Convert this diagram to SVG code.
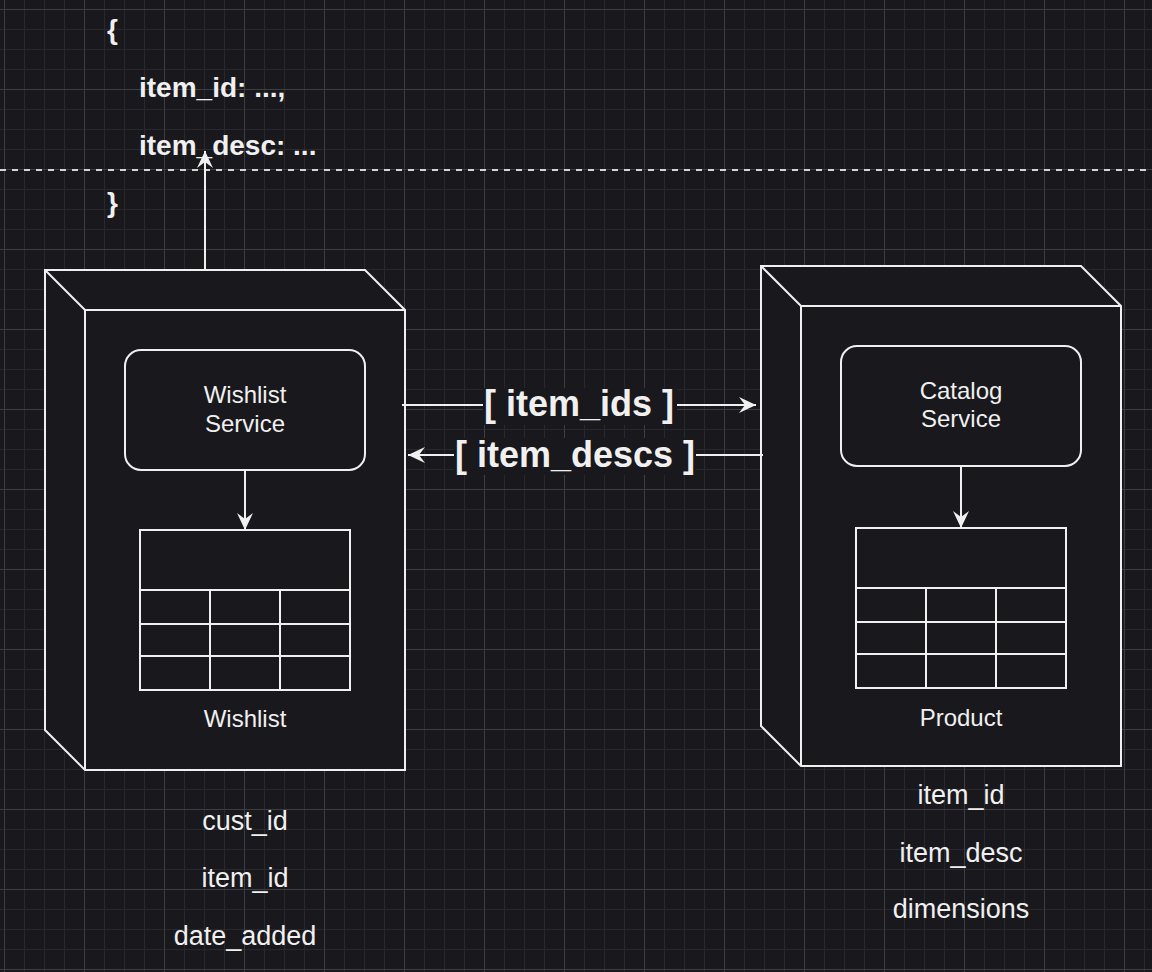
<svg xmlns="http://www.w3.org/2000/svg" width="1152" height="972" viewBox="0 0 1152 972">
  <defs>
    <pattern id="gridMinor" width="20" height="20" patternUnits="userSpaceOnUse" x="4" y="9">
      <path d="M0.5 0 V20 M0 0.5 H20" fill="none" stroke="#29282e" stroke-width="1"/>
    </pattern>
    <pattern id="gridMajor" width="80" height="80" patternUnits="userSpaceOnUse" x="4" y="9">
      <path d="M0.5 0 V80 M0 0.5 H80" fill="none" stroke="#3e3d43" stroke-width="1"/>
    </pattern>
    <marker id="arrow" markerUnits="userSpaceOnUse" markerWidth="20" markerHeight="20" viewBox="-18 -9 20 18" refX="0" refY="0" orient="auto">
      <path d="M0,0 L-17,-8 L-11,0 L-17,8 Z" fill="#f0f0f0" stroke="none"/>
    </marker>
    <style>
      .bg { fill: #19181d; }
      .shape { fill: #19181d; stroke: #f0f0f0; stroke-width: 2; }
      .line { fill: none; stroke: #f0f0f0; stroke-width: 2; }
      .edge { fill: none; stroke: #f0f0f0; stroke-width: 2; marker-end: url(#arrow); }
      .txt { font-family: "Liberation Sans", Arial, Helvetica, sans-serif; fill: #f0f0f0; text-anchor: middle; }
      .lbl { font-size: 24px; }
      .attr { font-size: 27px; }
      .json { font-family: "Liberation Sans", Arial, Helvetica, sans-serif; fill: #f0f0f0; font-size: 28px; font-weight: bold; }
      .elbl { font-size: 36px; font-weight: bold; }
    </style>
  </defs>

  <rect class="bg" x="0" y="0" width="1152" height="972"/>
  <rect x="0" y="0" width="1152" height="972" fill="url(#gridMinor)"/>
  <rect x="0" y="0" width="1152" height="972" fill="url(#gridMajor)"/>

  <g id="json-text">
    <text class="json" x="107" y="39">{</text>
    <text class="json" x="139" y="97">item_id: ...,</text>
    <text class="json" x="139" y="155">item_desc: ...</text>
    <text class="json" x="107" y="212">}</text>
  </g>

  <g id="divider">
    <line x1="0" y1="170" x2="1152" y2="170" stroke="#d4d4d4" stroke-width="2" stroke-dasharray="6 6"/>
  </g>

  <g id="wishlist-server">
    <path class="shape" d="M45,270 H365 L405,310 V770 H85 L45,730 Z"/>
    <path class="line" d="M45,270 L85,310 H405 M85,310 V770"/>
  </g>

  <g id="wishlist-service">
    <rect class="shape" x="125" y="350" width="240" height="120" rx="16" ry="16"/>
    <text class="txt lbl" x="245" y="403">Wishlist</text>
    <text class="txt lbl" x="245" y="432">Service</text>
  </g>

  <g id="wishlist-table">
    <rect class="shape" x="140" y="530" width="210" height="160"/>
    <path class="line" d="M140,590 H350 M140,624 H350 M140,656 H350 M210,590 V690 M280,590 V690"/>
    <text class="txt lbl" x="245" y="727">Wishlist</text>
  </g>

  <g id="wishlist-attrs">
    <text class="txt attr" x="245" y="830">cust_id</text>
    <text class="txt attr" x="245" y="887">item_id</text>
    <text class="txt attr" x="245" y="945">date_added</text>
  </g>

  <g id="catalog-server">
    <path class="shape" d="M761,266 H1081 L1121,306 V766 H801 L761,726 Z"/>
    <path class="line" d="M761,266 L801,306 H1121 M801,306 V766"/>
  </g>

  <g id="catalog-service">
    <rect class="shape" x="841" y="346" width="240" height="120" rx="16" ry="16"/>
    <text class="txt lbl" x="961" y="399">Catalog</text>
    <text class="txt lbl" x="961" y="427">Service</text>
  </g>

  <g id="product-table">
    <rect class="shape" x="856" y="528" width="210" height="160"/>
    <path class="line" d="M856,588 H1066 M856,622 H1066 M856,654 H1066 M926,588 V688 M996,588 V688"/>
    <text class="txt lbl" x="961" y="726">Product</text>
  </g>

  <g id="product-attrs">
    <text class="txt attr" x="961" y="804">item_id</text>
    <text class="txt attr" x="961" y="862">item_desc</text>
    <text class="txt attr" x="961" y="918">dimensions</text>
  </g>

  <g id="connectors">
    <line class="edge" x1="205" y1="270" x2="205" y2="151"/>
    <line class="edge" x1="245" y1="470" x2="245" y2="530"/>
    <line class="edge" x1="961" y1="466" x2="961" y2="528"/>
    <line class="edge" x1="402" y1="405" x2="756" y2="405"/>
    <line class="edge" x1="763" y1="455" x2="408" y2="455"/>
    <rect class="bg" x="483" y="388" width="194" height="37"/>
    <text class="txt elbl" x="579" y="416">[ item_ids ]</text>
    <rect class="bg" x="454" y="438" width="242" height="37"/>
    <text class="txt elbl" x="575" y="467">[ item_descs ]</text>
  </g>
</svg>
